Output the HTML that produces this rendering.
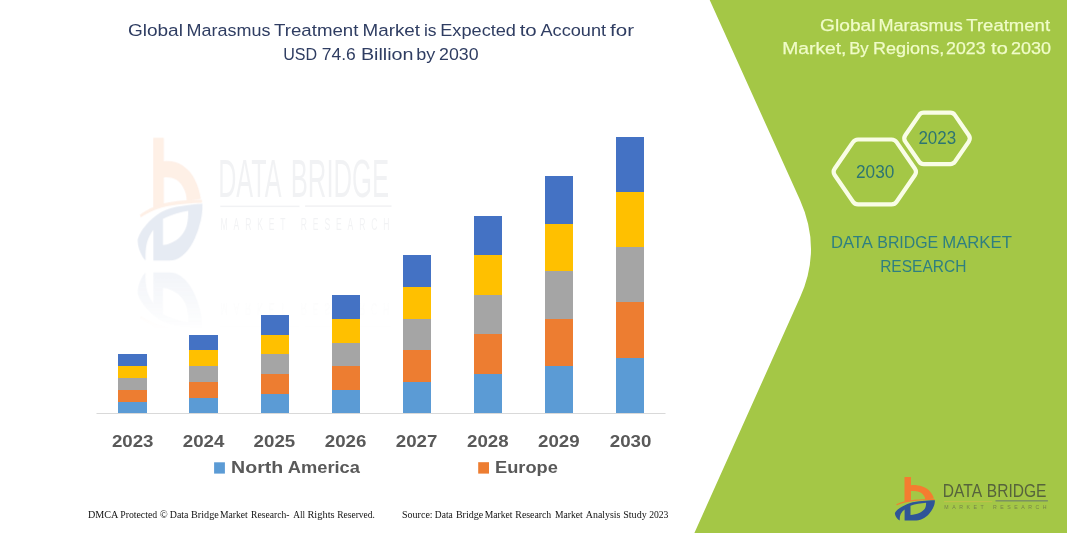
<!DOCTYPE html>
<html lang="en">
<head>
<meta charset="utf-8">
<title>Global Marasmus Treatment Market</title>
<style>
html,body{margin:0;padding:0;background:#fff;}
body{width:1067px;height:533px;overflow:hidden;position:relative;}
svg{display:block;position:absolute;left:0;top:0;}
.sans{font-family:"Liberation Sans",Arial,Helvetica,sans-serif;}
.serif{font-family:"Liberation Serif","Times New Roman",serif;}
</style>
</head>
<body>
<svg width="1067" height="533" viewBox="0 0 1067 533">
  <defs>
    <linearGradient id="fade" x1="0" y1="0" x2="0" y2="1">
      <stop offset="0" stop-color="#fff" stop-opacity="1"/>
      <stop offset="0.6" stop-color="#fff" stop-opacity="0.45"/>
      <stop offset="1" stop-color="#fff" stop-opacity="0"/>
    </linearGradient>
    <mask id="reflmask" maskUnits="userSpaceOnUse" x="120" y="262" width="300" height="70">
      <rect x="120" y="262" width="300" height="70" fill="url(#fade)"/>
    </mask>
  </defs>
  <rect width="1067" height="533" fill="#ffffff"/>

  <!-- watermark (stretched logo) -->
  <g id="wm" opacity="0.12">
    <g transform="translate(126.5,118.4) scale(1.62,2.815)">
      <path d="M16.5,6.9 L23,6.9 L23,15.2 C27,14.9 31,15.4 34.2,16.6 C38,18 40.5,19.8 42,21.5 C44,23.8 45.3,26 45.9,28.6 L37.2,29.4 C37,27.6 36.6,26.4 35.7,25.4 C34.5,23.8 33,22.7 31.3,22 C29,21.1 26,20.8 23,21 L23,30.6 L16.5,31.8 Z" fill="#f47c30"/>
      <path d="M8.3,34.2 C14,31.8 20,30.5 26.4,29.8 C33,29.1 40,28.9 46.6,28.9 L46.6,30 C40,30.1 33,30.4 26.6,31 C20,31.7 14,33 8.8,35.2 Z" fill="#f47c30"/>
      <path d="M6.9,43 C8,41 9.7,39.5 11.8,38.1 C14.5,36.2 18,34.5 21.5,33.3 C25.5,32 30,31.4 34.2,31.1 C38.5,30.7 43,30.4 46.9,30.3 C47,33 46.3,35.6 45,38.1 C44,40.2 42.7,42.2 41,44 C39.2,46 36.9,47.7 34.2,48.9 C31.8,50 29.2,50.5 26.4,50.5 L16.6,50.5 L16.6,39.6 C14.9,40.8 13.6,42.3 12.7,44 C11.8,46 11.6,48.2 11.8,50.5 C10.6,49.8 9.6,48.9 8.8,47.9 C7.6,46.4 6.9,44.8 6.9,43 Z M22.5,35.7 C27.5,34.2 32.8,33.2 38.1,32.8 C38.2,34.6 37.9,36.4 37.2,38.1 C36.1,40.3 33.9,41.9 31.3,43 C28.6,44.1 25.6,44.8 22.5,45 Z" fill="#2f5597" fill-rule="evenodd"/>
    </g>
    <g transform="translate(127.7,116.8) scale(1.65,3.0)" opacity="0.95">
      <text class="sans" y="26.80" font-size="17.9" fill="#8c93a0"><tspan x="54.82" textLength="38.34" lengthAdjust="spacingAndGlyphs">DATA</tspan> <tspan x="98.80" textLength="59.65" lengthAdjust="spacingAndGlyphs">BRIDGE</tspan></text>
      <rect x="56.1" y="29.6" width="48" height="0.5" fill="#8c93a0"/>
      <rect x="107.5" y="29.5" width="52.4" height="0.55" fill="#8c93a0"/>
      <text class="sans" y="37.8" font-size="5.2" fill="#8c93a0" style="letter-spacing:3.55px"><tspan x="56.3">MARKET</tspan> <tspan x="104.9">RESEARCH</tspan></text>
    </g>
  </g>
  <g id="wm-reflection" opacity="0.07" mask="url(#reflmask)">
    <g transform="translate(126.5,414.6) scale(1.62,-2.815)">
      <path d="M16.5,6.9 L23,6.9 L23,15.2 C27,14.9 31,15.4 34.2,16.6 C38,18 40.5,19.8 42,21.5 C44,23.8 45.3,26 45.9,28.6 L37.2,29.4 C37,27.6 36.6,26.4 35.7,25.4 C34.5,23.8 33,22.7 31.3,22 C29,21.1 26,20.8 23,21 L23,30.6 L16.5,31.8 Z" fill="#f47c30"/>
      <path d="M8.3,34.2 C14,31.8 20,30.5 26.4,29.8 C33,29.1 40,28.9 46.6,28.9 L46.6,30 C40,30.1 33,30.4 26.6,31 C20,31.7 14,33 8.8,35.2 Z" fill="#f47c30"/>
      <path d="M6.9,43 C8,41 9.7,39.5 11.8,38.1 C14.5,36.2 18,34.5 21.5,33.3 C25.5,32 30,31.4 34.2,31.1 C38.5,30.7 43,30.4 46.9,30.3 C47,33 46.3,35.6 45,38.1 C44,40.2 42.7,42.2 41,44 C39.2,46 36.9,47.7 34.2,48.9 C31.8,50 29.2,50.5 26.4,50.5 L16.6,50.5 L16.6,39.6 C14.9,40.8 13.6,42.3 12.7,44 C11.8,46 11.6,48.2 11.8,50.5 C10.6,49.8 9.6,48.9 8.8,47.9 C7.6,46.4 6.9,44.8 6.9,43 Z M22.5,35.7 C27.5,34.2 32.8,33.2 38.1,32.8 C38.2,34.6 37.9,36.4 37.2,38.1 C36.1,40.3 33.9,41.9 31.3,43 C28.6,44.1 25.6,44.8 22.5,45 Z" fill="#2f5597" fill-rule="evenodd"/>
    </g>
    <g transform="translate(127.7,416.2) scale(1.65,-3.0)" opacity="0.95">
      
      <rect x="56.1" y="29.6" width="48" height="0.5" fill="#8c93a0"/>
      <rect x="107.5" y="29.5" width="52.4" height="0.55" fill="#8c93a0"/>
      <text class="sans" y="37.8" font-size="5.2" fill="#8c93a0" style="letter-spacing:3.55px"><tspan x="56.3">MARKET</tspan> <tspan x="104.9">RESEARCH</tspan></text>
    </g>
  </g>

  <!-- title -->
  <text class="sans" y="36.20" font-size="17.2" fill="#2f3d62"><tspan x="127.93" textLength="54.97" lengthAdjust="spacingAndGlyphs">Global</tspan> <tspan x="186.56" textLength="83.92" lengthAdjust="spacingAndGlyphs">Marasmus</tspan> <tspan x="274.09" textLength="84.33" lengthAdjust="spacingAndGlyphs">Treatment</tspan> <tspan x="362.50" textLength="57.51" lengthAdjust="spacingAndGlyphs">Market</tspan> <tspan x="423.96" textLength="12.63" lengthAdjust="spacingAndGlyphs">is</tspan> <tspan x="440.25" textLength="75.70" lengthAdjust="spacingAndGlyphs">Expected</tspan> <tspan x="519.70" textLength="17.05" lengthAdjust="spacingAndGlyphs">to</tspan> <tspan x="540.47" textLength="65.59" lengthAdjust="spacingAndGlyphs">Account</tspan> <tspan x="610.10" textLength="23.98" lengthAdjust="spacingAndGlyphs">for</tspan></text>
  <text class="sans" y="60.30" font-size="17.2" fill="#2f3d62"><tspan x="283.21" textLength="33.95" lengthAdjust="spacingAndGlyphs">USD</tspan> <tspan x="321.71" textLength="34.03" lengthAdjust="spacingAndGlyphs">74.6</tspan> <tspan x="360.92" textLength="52.68" lengthAdjust="spacingAndGlyphs">Billion</tspan> <tspan x="416.32" textLength="19.02" lengthAdjust="spacingAndGlyphs">by</tspan> <tspan x="439.10" textLength="39.46" lengthAdjust="spacingAndGlyphs">2030</tspan></text>

  <!-- bars -->
  <g id="bars" shape-rendering="crispEdges">
    <rect x="118.4" y="354" width="28.4" height="12.0" fill="#4472c4"/>
    <rect x="118.4" y="366" width="28.4" height="12.2" fill="#ffc000"/>
    <rect x="118.4" y="378.2" width="28.4" height="11.8" fill="#a5a5a5"/>
    <rect x="118.4" y="390" width="28.4" height="12.0" fill="#ed7d31"/>
    <rect x="118.4" y="402" width="28.4" height="11.0" fill="#5b9bd5"/>
    <rect x="189.4" y="335.2" width="28.4" height="14.8" fill="#4472c4"/>
    <rect x="189.4" y="350" width="28.4" height="16.2" fill="#ffc000"/>
    <rect x="189.4" y="366.2" width="28.4" height="15.6" fill="#a5a5a5"/>
    <rect x="189.4" y="381.8" width="28.4" height="16.4" fill="#ed7d31"/>
    <rect x="189.4" y="398.2" width="28.4" height="14.8" fill="#5b9bd5"/>
    <rect x="260.6" y="315" width="28.4" height="20.0" fill="#4472c4"/>
    <rect x="260.6" y="335" width="28.4" height="19.4" fill="#ffc000"/>
    <rect x="260.6" y="354.4" width="28.4" height="19.4" fill="#a5a5a5"/>
    <rect x="260.6" y="373.8" width="28.4" height="20.0" fill="#ed7d31"/>
    <rect x="260.6" y="393.8" width="28.4" height="19.2" fill="#5b9bd5"/>
    <rect x="331.8" y="295.2" width="28.4" height="23.8" fill="#4472c4"/>
    <rect x="331.8" y="319" width="28.4" height="24.0" fill="#ffc000"/>
    <rect x="331.8" y="343" width="28.4" height="22.6" fill="#a5a5a5"/>
    <rect x="331.8" y="365.6" width="28.4" height="24.2" fill="#ed7d31"/>
    <rect x="331.8" y="389.8" width="28.4" height="23.2" fill="#5b9bd5"/>
    <rect x="402.8" y="255" width="28.4" height="32.0" fill="#4472c4"/>
    <rect x="402.8" y="287" width="28.4" height="31.6" fill="#ffc000"/>
    <rect x="402.8" y="318.6" width="28.4" height="31.6" fill="#a5a5a5"/>
    <rect x="402.8" y="350.2" width="28.4" height="32.0" fill="#ed7d31"/>
    <rect x="402.8" y="382.2" width="28.4" height="30.8" fill="#5b9bd5"/>
    <rect x="473.8" y="216.2" width="28.4" height="38.8" fill="#4472c4"/>
    <rect x="473.8" y="255" width="28.4" height="40.0" fill="#ffc000"/>
    <rect x="473.8" y="295" width="28.4" height="39.4" fill="#a5a5a5"/>
    <rect x="473.8" y="334.4" width="28.4" height="39.4" fill="#ed7d31"/>
    <rect x="473.8" y="373.8" width="28.4" height="39.2" fill="#5b9bd5"/>
    <rect x="544.8" y="175.8" width="28.4" height="48.2" fill="#4472c4"/>
    <rect x="544.8" y="224" width="28.4" height="47.4" fill="#ffc000"/>
    <rect x="544.8" y="271.4" width="28.4" height="47.2" fill="#a5a5a5"/>
    <rect x="544.8" y="318.6" width="28.4" height="47.4" fill="#ed7d31"/>
    <rect x="544.8" y="366" width="28.4" height="47.0" fill="#5b9bd5"/>
    <rect x="615.8" y="137" width="28.4" height="55.0" fill="#4472c4"/>
    <rect x="615.8" y="192" width="28.4" height="55.2" fill="#ffc000"/>
    <rect x="615.8" y="247.2" width="28.4" height="55.2" fill="#a5a5a5"/>
    <rect x="615.8" y="302.4" width="28.4" height="55.6" fill="#ed7d31"/>
    <rect x="615.8" y="358" width="28.4" height="55.0" fill="#5b9bd5"/>
  </g>
  <rect x="96.5" y="413" width="569" height="1" fill="#d9d9d9"/>

  <!-- axis labels -->
  <g class="sans" font-size="17" font-weight="bold" fill="#595959" text-anchor="middle">
    <text x="132.7" y="447.2" textLength="41.6" lengthAdjust="spacingAndGlyphs">2023</text>
    <text x="203.6" y="447.2" textLength="41.6" lengthAdjust="spacingAndGlyphs">2024</text>
    <text x="274.4" y="447.2" textLength="41.6" lengthAdjust="spacingAndGlyphs">2025</text>
    <text x="345.6" y="447.2" textLength="41.6" lengthAdjust="spacingAndGlyphs">2026</text>
    <text x="416.6" y="447.2" textLength="41.6" lengthAdjust="spacingAndGlyphs">2027</text>
    <text x="487.8" y="447.2" textLength="41.6" lengthAdjust="spacingAndGlyphs">2028</text>
    <text x="558.8" y="447.2" textLength="41.6" lengthAdjust="spacingAndGlyphs">2029</text>
    <text x="630.6" y="447.2" textLength="41.6" lengthAdjust="spacingAndGlyphs">2030</text>
  </g>

  <!-- legend -->
  <rect x="214.1" y="462.3" width="10.8" height="11.3" fill="#5b9bd5"/>
  <text class="sans" y="472.80" font-size="17" font-weight="bold" fill="#595959"><tspan x="231.11" textLength="52.13" lengthAdjust="spacingAndGlyphs">North</tspan> <tspan x="287.86" textLength="72.07" lengthAdjust="spacingAndGlyphs">America</tspan></text>
  <rect x="478.2" y="462.2" width="10.8" height="11.4" fill="#ed7d31"/>
  <text class="sans" y="472.80" font-size="17" font-weight="bold" fill="#595959"><tspan x="494.99" textLength="62.81" lengthAdjust="spacingAndGlyphs">Europe</tspan></text>

  <!-- footer -->
  <text class="serif" y="517.70" font-size="9.8" fill="#111111"><tspan x="87.95" textLength="29.78" lengthAdjust="spacingAndGlyphs">DMCA</tspan> <tspan x="120.25" textLength="36.88" lengthAdjust="spacingAndGlyphs">Protected</tspan> <tspan x="159.70" textLength="7.98" lengthAdjust="spacingAndGlyphs">©</tspan> <tspan x="169.75" textLength="18.68" lengthAdjust="spacingAndGlyphs">Data</tspan> <tspan x="191.04" textLength="27.77" lengthAdjust="spacingAndGlyphs">Bridge</tspan> <tspan x="219.95" textLength="27.79" lengthAdjust="spacingAndGlyphs">Market</tspan> <tspan x="251.06" textLength="38.33" lengthAdjust="spacingAndGlyphs">Research-</tspan> <tspan x="293.28" textLength="11.86" lengthAdjust="spacingAndGlyphs">All</tspan> <tspan x="307.44" textLength="27.13" lengthAdjust="spacingAndGlyphs">Rights</tspan> <tspan x="337.16" textLength="37.78" lengthAdjust="spacingAndGlyphs">Reserved.</tspan></text>
  <text class="serif" y="517.50" font-size="9.8" fill="#111111"><tspan x="402.06" textLength="30.56" lengthAdjust="spacingAndGlyphs">Source:</tspan> <tspan x="434.86" textLength="17.86" lengthAdjust="spacingAndGlyphs">Data</tspan> <tspan x="455.94" textLength="27.26" lengthAdjust="spacingAndGlyphs">Bridge</tspan> <tspan x="484.76" textLength="27.69" lengthAdjust="spacingAndGlyphs">Market</tspan> <tspan x="515.35" textLength="35.91" lengthAdjust="spacingAndGlyphs">Research</tspan> <tspan x="555.06" textLength="27.69" lengthAdjust="spacingAndGlyphs">Market</tspan> <tspan x="585.87" textLength="34.55" lengthAdjust="spacingAndGlyphs">Analysis</tspan> <tspan x="623.26" textLength="23.44" lengthAdjust="spacingAndGlyphs">Study</tspan> <tspan x="649.13" textLength="19.31" lengthAdjust="spacingAndGlyphs">2023</tspan></text>

  <!-- green panel -->
  <path d="M709.7,0 L800,200 Q822,249 800,297.6 L694.4,533 L1067,533 L1067,0 Z" fill="#a4c746"/>

  <!-- right title -->
  <text class="sans" y="30.50" font-size="17.2" fill="#f0fcc8" stroke="#f0fcc8" stroke-width="0.25"><tspan x="820.13" textLength="55.29" lengthAdjust="spacingAndGlyphs">Global</tspan> <tspan x="878.46" textLength="84.23" lengthAdjust="spacingAndGlyphs">Marasmus</tspan> <tspan x="966.30" textLength="83.73" lengthAdjust="spacingAndGlyphs">Treatment</tspan></text>
  <text class="sans" y="54.40" font-size="17.2" fill="#f0fcc8" stroke="#f0fcc8" stroke-width="0.25"><tspan x="782.16" textLength="64.33" lengthAdjust="spacingAndGlyphs">Market,</tspan> <tspan x="849.16" textLength="19.51" lengthAdjust="spacingAndGlyphs">By</tspan> <tspan x="873.06" textLength="71.12" lengthAdjust="spacingAndGlyphs">Regions,</tspan> <tspan x="946.10" textLength="39.49" lengthAdjust="spacingAndGlyphs">2023</tspan> <tspan x="991.11" textLength="16.62" lengthAdjust="spacingAndGlyphs">to</tspan> <tspan x="1011.09" textLength="39.98" lengthAdjust="spacingAndGlyphs">2030</tspan></text>

  <!-- hexagons -->
  <g fill="none" stroke="#f9fde6" stroke-width="4.2" stroke-linejoin="round">
    <path d="M834.8,175.3 Q832.5,171.9 834.8,168.5 L853.0,142.1 Q854.8,139.5 858.0,139.5 L891.6,139.5 Q894.8,139.5 896.6,142.1 L914.8,168.5 Q917.1,171.9 914.8,175.3 L896.6,201.7 Q894.8,204.3 891.6,204.3 L858.0,204.3 Q854.8,204.3 853.0,201.7 Z"/>
    <path d="M905.3,141.6 Q903.1,138.4 905.3,135.3 L919.2,115.1 Q920.8,112.7 923.7,112.7 L950.4,112.7 Q953.2,112.7 954.9,115.1 L968.8,135.3 Q970.9,138.4 968.8,141.6 L954.9,161.8 Q953.2,164.1 950.4,164.1 L923.7,164.1 Q920.8,164.1 919.2,161.8 Z"/>
  </g>
  <g class="sans" font-size="17.6" fill="#2d7572" text-anchor="middle">
    <text x="875.2" y="178.2" textLength="38.3" lengthAdjust="spacingAndGlyphs">2030</text>
    <text x="937.3" y="143.6" textLength="37.8" lengthAdjust="spacingAndGlyphs">2023</text>
  </g>

  <!-- DBMR text -->
  <text class="sans" y="247.80" font-size="16.8" fill="#2f7f80"><tspan x="830.97" textLength="40.98" lengthAdjust="spacingAndGlyphs">DATA</tspan> <tspan x="877.30" textLength="60.93" lengthAdjust="spacingAndGlyphs">BRIDGE</tspan> <tspan x="942.23" textLength="69.63" lengthAdjust="spacingAndGlyphs">MARKET</tspan></text>
  <text class="sans" y="272.00" font-size="16.8" fill="#2f7f80"><tspan x="880.13" textLength="86.31" lengthAdjust="spacingAndGlyphs">RESEARCH</tspan></text>

  <!-- logo -->
  <g id="logo" transform="translate(888,470)">
      <path d="M16.5,6.9 L23,6.9 L23,15.2 C27,14.9 31,15.4 34.2,16.6 C38,18 40.5,19.8 42,21.5 C44,23.8 45.3,26 45.9,28.6 L37.2,29.4 C37,27.6 36.6,26.4 35.7,25.4 C34.5,23.8 33,22.7 31.3,22 C29,21.1 26,20.8 23,21 L23,30.6 L16.5,31.8 Z" fill="#f47c30"/>
      <path d="M8.3,34.2 C14,31.8 20,30.5 26.4,29.8 C33,29.1 40,28.9 46.6,28.9 L46.6,30 C40,30.1 33,30.4 26.6,31 C20,31.7 14,33 8.8,35.2 Z" fill="#f47c30"/>
      <path d="M6.9,43 C8,41 9.7,39.5 11.8,38.1 C14.5,36.2 18,34.5 21.5,33.3 C25.5,32 30,31.4 34.2,31.1 C38.5,30.7 43,30.4 46.9,30.3 C47,33 46.3,35.6 45,38.1 C44,40.2 42.7,42.2 41,44 C39.2,46 36.9,47.7 34.2,48.9 C31.8,50 29.2,50.5 26.4,50.5 L16.6,50.5 L16.6,39.6 C14.9,40.8 13.6,42.3 12.7,44 C11.8,46 11.6,48.2 11.8,50.5 C10.6,49.8 9.6,48.9 8.8,47.9 C7.6,46.4 6.9,44.8 6.9,43 Z M22.5,35.7 C27.5,34.2 32.8,33.2 38.1,32.8 C38.2,34.6 37.9,36.4 37.2,38.1 C36.1,40.3 33.9,41.9 31.3,43 C28.6,44.1 25.6,44.8 22.5,45 Z" fill="#2f5597" fill-rule="evenodd"/>
      <text class="sans" y="26.80" font-size="17.9" fill="#56633c"><tspan x="54.82" textLength="38.34" lengthAdjust="spacingAndGlyphs">DATA</tspan> <tspan x="98.80" textLength="59.65" lengthAdjust="spacingAndGlyphs">BRIDGE</tspan></text>
      <rect x="56.1" y="31.1" width="48" height="1" fill="#c2c04a"/>
      <rect x="107.5" y="30.3" width="52.4" height="1.1" fill="#6d7f6a"/>
      <text class="sans" y="39.1" font-size="5.2" fill="#76854a" style="letter-spacing:3.55px"><tspan x="56.3">MARKET</tspan> <tspan x="104.9">RESEARCH</tspan></text>
  </g>
</svg>
</body>
</html>
